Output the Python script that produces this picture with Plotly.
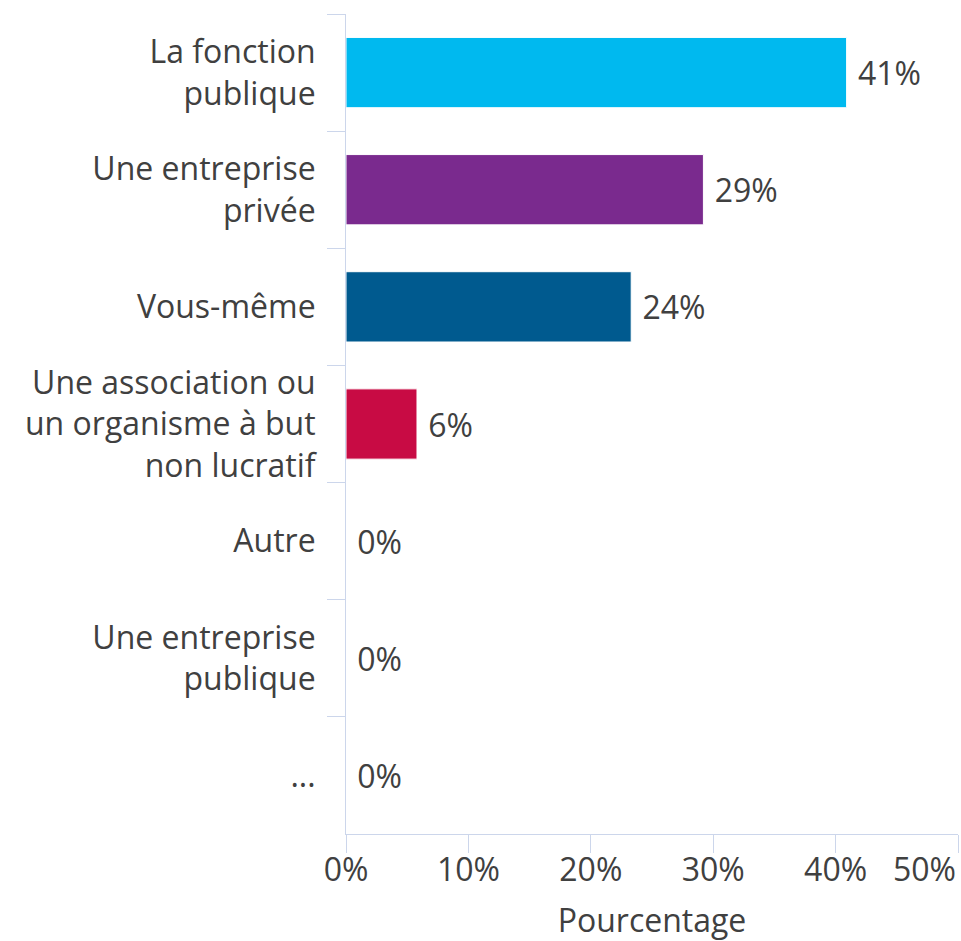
import plotly.graph_objects as go

# categories, top to bottom
categories = [
    "La fonction<br>publique",
    "Une entreprise<br>privée",
    "Vous-même",
    "Une association ou<br>un organisme à but<br>non lucratif",
    "Autre",
    "Une entreprise<br>publique",
    "...",
]
# bar lengths (%)
values = [40.9, 29.2, 23.3, 5.8, 0, 0, 0]
# labels printed next to the bars
value_labels = ["41%", "29%", "24%", "6%", "0%", "0%", "0%"]
bar_colors = ["#00b9ef", "#7a2a8e", "#005a8f", "#c80b44", "#00b9ef", "#00b9ef", "#00b9ef"]

x_ticks = [0, 10, 20, 30, 40, 50]
x_tick_labels = ["0%", "10%", "20%", "30%", "40%", "50%"]

TEXT = "#404040"
AXIS = "#ccd6eb"
FONT = "Open Sans"
SIZE = 32
NBSP = "\u00a0"

fig = go.Figure()
fig.add_trace(go.Bar(
    y=categories,
    x=values,
    orientation="h",
    marker=dict(color=bar_colors, line=dict(color="white", width=1)),
    text=[NBSP + t for t in value_labels],
    textposition="outside",
    constraintext="none",
    cliponaxis=False,
    textfont=dict(family=FONT, size=SIZE, color=TEXT),
    hoverinfo="skip",
))

fig.update_layout(
    width=961,
    height=941,
    margin=dict(l=346, r=3, t=14, b=107),
    paper_bgcolor="white",
    plot_bgcolor="white",
    bargap=0.40,
    showlegend=False,
    font=dict(family=FONT, size=SIZE, color=TEXT),
)

# last tick sits on the right edge: its label is drawn right-aligned to the tick
# instead of centred, like the original keeps it inside the chart
fig.update_xaxes(
    range=[0, 50],
    tickvals=x_ticks,
    ticktext=x_tick_labels[:-1] + [""],
    showgrid=False,
    zeroline=False,
    showline=True,
    linecolor=AXIS,
    linewidth=1,
    ticks="outside",
    ticklen=18,
    tickcolor=AXIS,
    ticklabelstandoff=-10,
    tickfont=dict(family=FONT, size=SIZE, color=TEXT),
    title=dict(text="Pourcentage", font=dict(family=FONT, size=SIZE, color=TEXT), standoff=30),
    automargin=False,
)
fig.add_annotation(
    x=x_ticks[-1], xref="x", xanchor="right",
    y=0, yref="paper", yanchor="top", yshift=-11,
    text=x_tick_labels[-1], showarrow=False,
    font=dict(family=FONT, size=SIZE, color=TEXT),
)

fig.update_yaxes(
    categoryorder="array",
    categoryarray=categories,
    autorange="reversed",
    showgrid=False,
    showline=True,
    linecolor=AXIS,
    linewidth=1,
    ticks="outside",
    ticklen=18,
    tickcolor=AXIS,
    tickson="boundaries",
    ticklabelstandoff=23,
    tickfont=dict(family=FONT, size=SIZE, color=TEXT),
    automargin=False,
)

# the page body has a default margin; drop it so the figure fills the window
fig.write_html(
    "out.html",
    config={"displayModeBar": False},
    post_script="document.body.style.margin='0';document.body.style.overflow='hidden';",
)
